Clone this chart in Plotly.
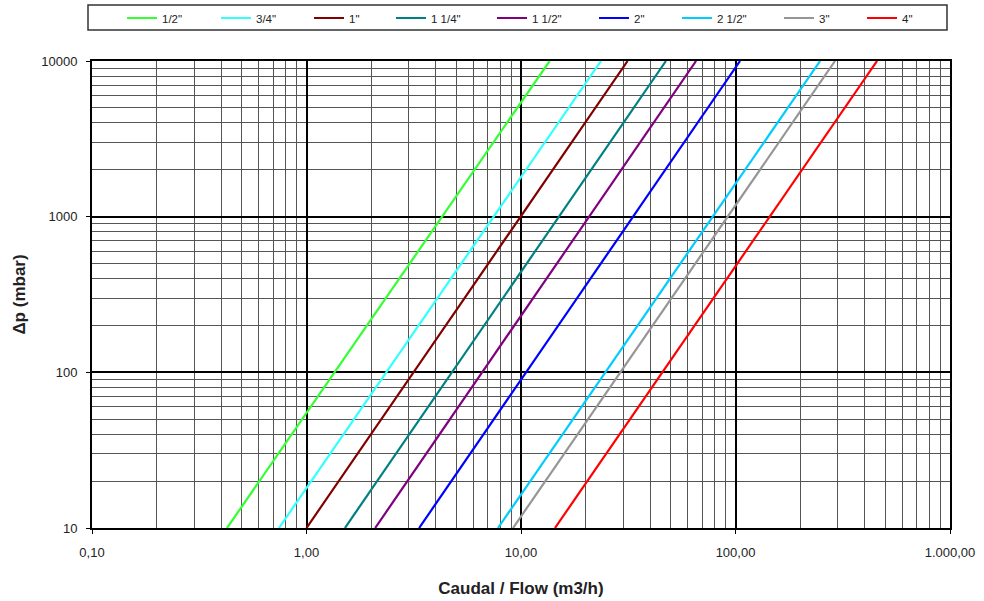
import plotly.graph_objects as go

# ---- data ----
SIZES = ['1/2"', '3/4"', '1"', '1 1/4"', '1 1/2"', '2"', '2 1/2"', '3"', '4"']
DP_ENDS = [10, 10000]  # mbar, ends of each curve
FLOW_AT_DP_LOW = [0.426, 0.744, 1.0, 1.51, 2.09, 3.35, 7.81, 9.18, 14.4]
FLOW_AT_DP_HIGH = [13.6, 23.6, 31.4, 47.4, 65.5, 105, 248, 291, 457]
X_TICKS = [0.1, 1, 10, 100, 1000]
X_TICK_LABELS = ['0,10', '1,00', '10,00', '100,00', '1.000,00']
Y_TICKS = [10, 100, 1000, 10000]
Y_TICK_LABELS = ['10', '100', '1000', '10000']

# ---- styles ----
COLORS = ['#33ff33', '#33ffff', '#800000', '#008080', '#800080',
          '#0000ff', '#00ccff', '#969696', '#ff0000']
LEGEND_WIDTHS = [49, 48, 37, 56, 57, 38, 57, 38, 38]

x_minor = [d * 10 ** e for e in range(-1, 3) for d in range(2, 10)]
y_minor = [d * 10 ** e for e in range(1, 4) for d in range(2, 10)]

fig = go.Figure()
for name, q0, q1, c, lw in zip(SIZES, FLOW_AT_DP_LOW, FLOW_AT_DP_HIGH, COLORS, LEGEND_WIDTHS):
    fig.add_trace(go.Scatter(
        x=[q0, q1], y=DP_ENDS, mode='lines', name=name,
        line=dict(color=c, width=2.2), legendwidth=lw,
    ))

FONT = 'Liberation Sans, Arial, sans-serif'
W, H = 984, 601
L, R, T, B = 92, 34, 61, 73
pw, ph = W - L - R, H - T - B

def px_x(p):
    return (p - L) / pw

def px_y(p):
    return (H - B - p) / ph

fig.update_layout(
    width=W, height=H,
    margin=dict(l=L, r=R, t=T, b=B, autoexpand=False),
    paper_bgcolor='white', plot_bgcolor='white',
    font=dict(family=FONT, color='#222', size=13),
    showlegend=True,
    legend=dict(
        orientation='h', x=px_x(122), xanchor='left',
        y=px_y(18), yanchor='middle',
        font=dict(size=11.5, color='#222'),
        bgcolor='rgba(0,0,0,0)', borderwidth=0,
    ),
    shapes=[dict(
        type='rect', xref='paper', yref='paper',
        x0=px_x(88), x1=px_x(947), y0=px_y(30), y1=px_y(5),
        line=dict(color='#333', width=1.5), fillcolor='rgba(0,0,0,0)',
    )],
    xaxis=dict(
        type='log', range=[-1, 3], automargin=False,
        tickvals=X_TICKS, ticktext=X_TICK_LABELS,
        ticks='outside', ticklen=4, tickcolor='black', ticklabelstandoff=7,
        showline=True, mirror=True, linecolor='black', linewidth=2,
        showgrid=True, gridcolor='black', gridwidth=2,
        minor=dict(tickvals=x_minor, showgrid=True, gridcolor='#555555',
                   gridwidth=1, ticks=''),
        title=dict(text='Caudal / Flow (m3/h)', standoff=24,
                   font=dict(size=17, color='#222', family=FONT, weight='bold')),
        zeroline=False,
    ),
    yaxis=dict(
        type='log', range=[1, 4], automargin=False,
        tickvals=Y_TICKS, ticktext=Y_TICK_LABELS,
        ticks='outside', ticklen=4, tickcolor='black', ticklabelstandoff=6,
        showline=True, mirror=True, linecolor='black', linewidth=2,
        showgrid=True, gridcolor='black', gridwidth=2,
        minor=dict(tickvals=y_minor, showgrid=True, gridcolor='#555555',
                   gridwidth=1, ticks=''),
        title=dict(text='Δp (mbar)', standoff=11,
                   font=dict(size=17, color='#222', family=FONT, weight='bold')),
        zeroline=False,
    ),
)

fig.write_html('out.html', config={'displayModeBar': False},
               post_script="document.body.style.margin='0';")
